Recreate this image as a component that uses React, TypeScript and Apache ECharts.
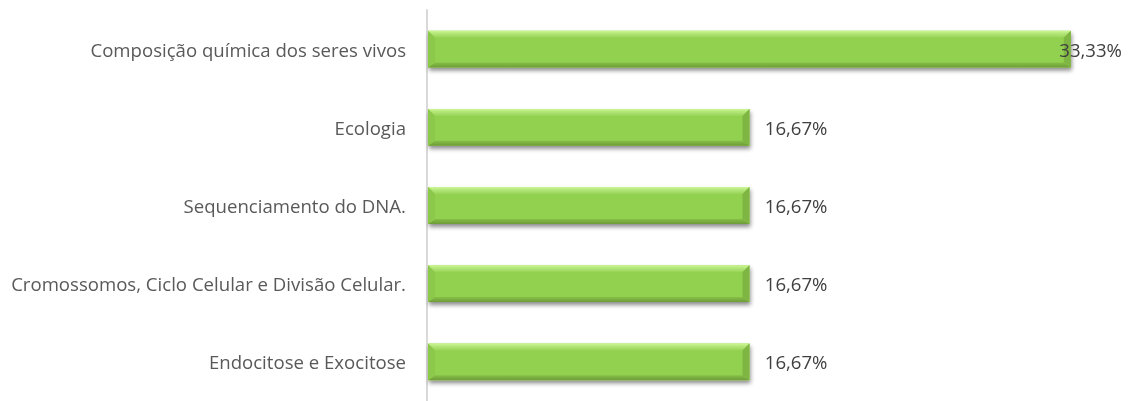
import React, { useEffect, useRef } from "react";
import * as echarts from "echarts";

const categories = [
  "Composição química dos seres vivos",
  "Ecologia",
  "Sequenciamento do DNA.",
  "Cromossomos, Ciclo Celular e Divisão Celular.",
  "Endocitose e Exocitose",
];
const values = [33.33, 16.67, 16.67, 16.67, 16.67];
const valueLabels = ["33,33%", "16,67%", "16,67%", "16,67%", "16,67%"];

const FONT = "'Open Sans', sans-serif";
const FONT_SIZE = 18.6;

export default function App() {
  const ref = useRef<HTMLDivElement>(null);
  useEffect(() => {
    const chart = echarts.init(ref.current!, null, { renderer: "svg" });
    const labelW = 61;
    const rightLimit = 1122;
    chart.setOption({
      animation: false,
      grid: { left: 427, top: 10, width: 675, height: 395, containLabel: false },
      xAxis: {
        type: "value",
        min: 0,
        max: 35,
        show: false,
      },
      yAxis: {
        type: "category",
        inverse: true,
        data: categories,
        axisLine: { show: true, lineStyle: { color: "#d9d9d9", width: 2 } },
        axisTick: { show: false },
        axisLabel: {
          color: "#595959",
          fontFamily: FONT,
          fontSize: FONT_SIZE,
          margin: 21,
        },
      },
      series: [
        {
          type: "custom",
          data: values.map((v, i) => [v, i]),
          encode: { x: 0, y: 1 },
          renderItem: (params: any, api: any) => {
            const v = api.value(0);
            const idx = api.value(1);
            const end = api.coord([v, idx]);
            const start = api.coord([0, idx]);
            const band = api.size([0, 1])[1];
            const h = band * 0.47;
            const x0 = start[0] + 1;
            const x1 = end[0] + 1;
            const y0 = end[1] - h / 2;
            const y1 = end[1] + h / 2;
            const b = 7;
            const textRight = Math.min(x1 + 17 + labelW, rightLimit);
            return {
              type: "group",
              children: [
                {
                  type: "rect",
                  shape: { x: x0, y: y0, width: x1 - x0, height: h },
                  style: {
                    fill: "#92d050",
                    shadowColor: "rgba(0,0,0,0.45)",
                    shadowBlur: 4,
                    shadowOffsetX: 1,
                    shadowOffsetY: 3,
                  },
                },
                {
                  type: "polygon",
                  shape: { points: [[x0, y0], [x1, y0], [x1 - b, y0 + b], [x0 + b, y0 + b]] },
                  style: {
                    fill: new echarts.graphic.LinearGradient(0, 0, 0, 1, [
                      { offset: 0, color: "#cdf995" },
                      { offset: 0.35, color: "#b6e77c" },
                      { offset: 1, color: "#97d456" },
                    ]),
                  },
                },
                {
                  type: "polygon",
                  shape: { points: [[x0, y1], [x1, y1], [x1 - b, y1 - 5], [x0 + b, y1 - 5]] },
                  style: {
                    fill: new echarts.graphic.LinearGradient(0, 0, 0, 1, [
                      { offset: 0, color: "#86bf47" },
                      { offset: 1, color: "#6e9c38" },
                    ]),
                  },
                },
                {
                  type: "polygon",
                  shape: { points: [[x0, y0], [x0 + b, y0 + b], [x0 + b, y1 - 5], [x0, y1]] },
                  style: { fill: "#8cc94b" },
                },
                {
                  type: "polygon",
                  shape: { points: [[x1, y0], [x1 - b, y0 + b], [x1 - b, y1 - 5], [x1, y1]] },
                  style: { fill: "#7fb542" },
                },
                {
                  type: "text",
                  style: {
                    x: textRight,
                    y: end[1],
                    text: valueLabels[idx],
                    align: "right",
                    verticalAlign: "middle",
                    fill: "#404040",
                    font: `${FONT_SIZE}px ${FONT}`,
                  },
                },
              ],
            };
          },
        },
      ],
    });
    return () => chart.dispose();
  }, []);
  return (
    <div
      ref={ref}
      style={{ position: "fixed", left: 0, top: 0, width: 1129, height: 401 }}
    />
  );
}
